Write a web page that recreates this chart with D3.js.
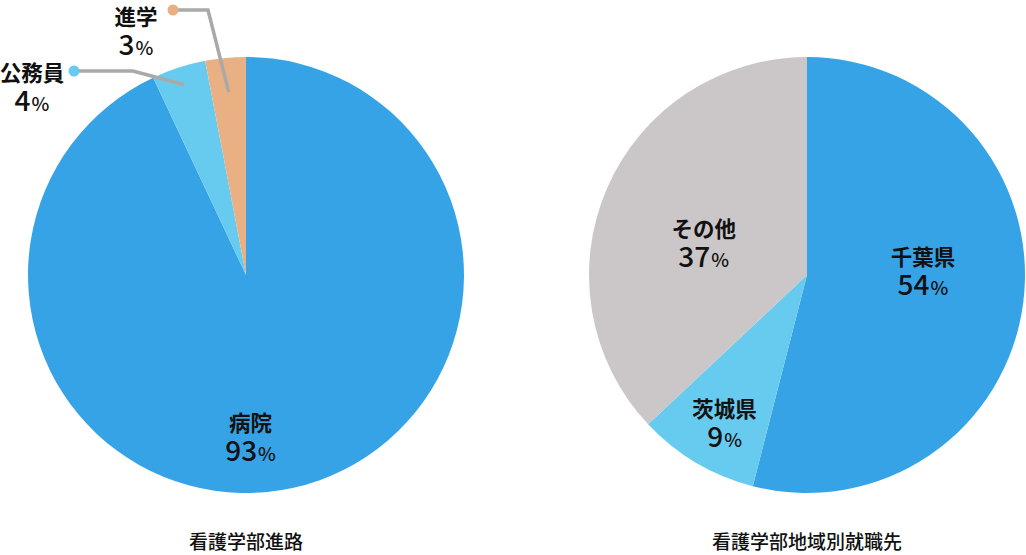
<!DOCTYPE html>
<html><head><meta charset="utf-8">
<script src="https://cdn.jsdelivr.net/npm/d3@7"></script>
<style>body{margin:0;background:#fff}svg{display:block}text{font-family:"Noto Sans CJK JP","Noto Sans",sans-serif;fill:#111}</style>
</head><body><svg id="c" width="1026" height="555"></svg>
<script>
// ---- data ----
const leftTitle = "看護学部進路";
const leftCategories = ["病院", "公務員", "進学"];
const leftValues = [93, 4, 3];
const leftColors = ["#37a3e7", "#67cbef", "#e9b083"];

const rightTitle = "看護学部地域別就職先";
const rightCategories = ["千葉県", "茨城県", "その他"];
const rightValues = [54, 9, 37];
const rightColors = ["#37a3e7", "#67cbef", "#cbc6c7"];

// ---- layout ----
const R = 218;
const svg = d3.select("#c");
const pie = d3.pie().sort(null).value(d => d.v);
const arc = d3.arc().innerRadius(0).outerRadius(R);
function polar(r, a){ return [r*Math.sin(a), -r*Math.cos(a)]; }
const deg = Math.PI/180;

const leftLabels = [
  {type:"in", r:163, da:11*deg},
  {type:"out", endR:200, elbow:[-113,-204], dot:[-172,-204], label:[-214,-187]},
  {type:"out", endR:184, elbow:[-38,-265], dot:[-73,-265], label:[-110,-243]}
];
const rightLabels = [
  {type:"in", r:116, da:-8.5*deg},
  {type:"in", r:170, da:-1.6*deg},
  {type:"in", r:108, da:-6.5*deg}
];

function drawPie(cx, cy, cats, vals, cols, labels, title){
  const g = svg.append("g").attr("transform", `translate(${cx},${cy})`);
  const data = pie(cats.map((c,i)=>({c, v:vals[i], col:cols[i]})));
  g.selectAll("path.s").data(data).join("path").attr("class","s")
    .attr("d", arc).attr("fill", d=>d.data.col);
  data.forEach((d,i)=>{
    const L = labels[i];
    const mid = (d.startAngle + d.endAngle)/2;
    let pos;
    if(L.type === "in"){
      pos = polar(L.r, mid + L.da);
    } else {
      const end = polar(L.endR, mid);
      g.append("path")
        .attr("d", d3.line()([L.dot, L.elbow, end]))
        .attr("fill","none").attr("stroke","#a9a9a9").attr("stroke-width",3.5);
      g.append("circle").attr("cx",L.dot[0]).attr("cy",L.dot[1]).attr("r",5.5)
        .attr("fill", d.data.col);
      pos = L.label;
    }
    const t = g.append("g").attr("transform", `translate(${pos[0]},${pos[1]})`);
    t.append("text").attr("text-anchor","middle").attr("y",-7)
      .attr("font-size",21.5).attr("font-weight",700).text(d.data.c);
    const n = t.append("text").attr("text-anchor","middle").attr("y",23)
      .attr("font-size",28).attr("font-weight",500);
    n.append("tspan").text(d.data.v);
    n.append("tspan").attr("font-size",19).attr("dx",1).text("%");
  });
  svg.append("text").attr("x",cx).attr("y",549).attr("text-anchor","middle")
    .attr("font-size",19).attr("font-weight",500).text(title);
}

drawPie(246, 275, leftCategories, leftValues, leftColors, leftLabels, leftTitle);
drawPie(807, 275, rightCategories, rightValues, rightColors, rightLabels, rightTitle);
</script></body></html>
